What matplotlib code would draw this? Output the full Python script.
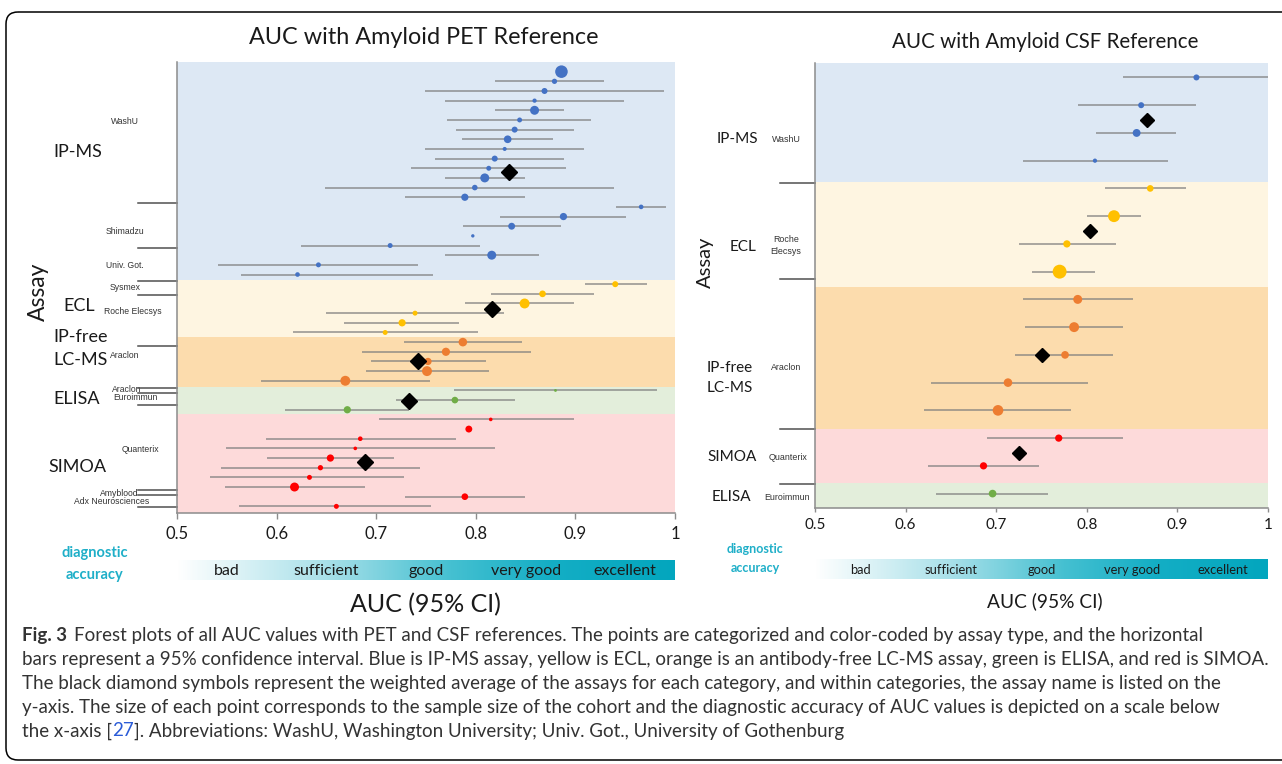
import numpy as np
import matplotlib
matplotlib.use('Agg')
import matplotlib.pyplot as plt
import matplotlib.transforms as mtransforms
from matplotlib.colors import LinearSegmentedColormap
from matplotlib.patches import FancyBboxPatch

W, H = 1282, 764

# ---------------- data: AUC with amyloid PET reference (rows top -> bottom)
pet_group = ['IP-MS'] * 22 + ['ECL'] * 6 + ['LC-MS'] * 5 + ['ELISA'] * 3 + ['SIMOA'] * 10
pet_auc = [0.886, 0.879, 0.869, 0.859, 0.859, 0.844, 0.839, 0.832, 0.829, 0.819, 0.813,
           0.809, 0.799, 0.789, 0.966, 0.888, 0.836, 0.797, 0.714, 0.816, 0.642, 0.621,
           0.940, 0.867, 0.849, 0.739, 0.726, 0.709,
           0.787, 0.770, 0.752, 0.751, 0.669,
           0.880, 0.779, 0.671,
           0.815, 0.793, 0.684, 0.679, 0.654, 0.644, 0.633, 0.618, 0.789, 0.660]
pet_lo = [np.nan, 0.819, 0.749, 0.769, 0.819, 0.771, 0.780, 0.786, 0.749, 0.759, 0.735,
          0.769, 0.649, 0.729, 0.941, 0.824, 0.787, np.nan, 0.624, 0.769, 0.541, 0.564,
          0.910, 0.815, 0.789, 0.650, 0.668, 0.616,
          0.728, 0.686, 0.695, 0.690, 0.584,
          0.778, 0.720, 0.608,
          0.703, np.nan, 0.589, 0.549, 0.590, 0.544, 0.533, 0.548, 0.729, 0.562]
pet_hi = [np.nan, 0.929, 0.989, 0.949, 0.889, 0.916, 0.899, 0.878, 0.909, 0.889, 0.891,
          0.849, 0.939, 0.849, 0.991, 0.951, 0.886, np.nan, 0.804, 0.863, 0.742, 0.757,
          0.972, 0.919, 0.899, 0.828, 0.783, 0.802,
          0.846, 0.855, 0.810, 0.813, 0.754,
          0.982, 0.839, 0.733,
          0.899, np.nan, 0.780, 0.819, 0.718, 0.744, 0.728, 0.689, 0.849, 0.755]
pet_n = [480, 85, 110, 55, 245, 75, 110, 180, 50, 110, 75, 245, 95, 160, 65, 160, 145, 35,
         75, 245, 75, 65,
         110, 135, 300, 75, 160, 75,
         225, 205, 160, 300, 300,
         25, 135, 160,
         40, 145, 65, 40, 160, 85, 75, 245, 135, 75]
pet_mean_group = ['IP-MS', 'ECL', 'LC-MS', 'ELISA', 'SIMOA']
pet_mean_auc = [0.833, 0.816, 0.742, 0.733, 0.689]
pet_mean_row = [11.35, 25.6, 31.0, 35.05, 41.4]
# shaded category bands and assay separators, in row units
pet_bands = [('IP-MS', 0, 22.6), ('ECL', 22.6, 28.5), ('LC-MS', 28.5, 33.6),
             ('ELISA', 33.6, 36.4), ('SIMOA', 36.4, 46.72)]
pet_seps = [14.57, 19.22, 22.67, 24.12, 29.37, 33.78, 34.30, 35.48, 44.31, 44.86, 46.04]

# ---------------- data: AUC with amyloid CSF reference
csf_group = ['IP-MS'] * 4 + ['ECL'] * 4 + ['LC-MS'] * 5 + ['SIMOA'] * 2 + ['ELISA']
csf_auc = [0.921, 0.860, 0.855, 0.809, 0.870, 0.830, 0.778, 0.770,
           0.790, 0.786, 0.776, 0.713, 0.702, 0.769, 0.686, 0.696]
csf_lo = [0.840, 0.790, 0.810, 0.730, 0.820, 0.800, 0.725, 0.740,
          0.730, 0.732, 0.721, 0.628, 0.620, 0.690, 0.625, 0.634]
csf_hi = [1.000, 0.921, 0.899, 0.890, 0.910, 0.860, 0.832, 0.809,
          0.851, 0.840, 0.829, 0.801, 0.783, 0.840, 0.747, 0.757]
csf_n = [110, 110, 190, 55, 135, 430, 160, 590, 245, 300, 180, 225, 345, 160, 160, 180]
csf_mean_auc = [0.866, 0.803, 0.751, 0.725]
csf_mean_row = [2.53, 6.52, 11.0, 14.53]
csf_bands = [('IP-MS', 0.49, 4.78), ('ECL', 4.78, 8.57), ('LC-MS', 8.57, 13.66),
             ('SIMOA', 13.66, 15.63), ('ELISA', 15.63, 16.53)]
csf_seps = [4.82, 8.27, 13.68, 15.67]

xticks = [0.5, 0.6, 0.7, 0.8, 0.9, 1.0]
xticklabels = ['0.5', '0.6', '0.7', '0.8', '0.9', '1']
acc_labels = ['bad', 'sufficient', 'good', 'very good', 'excellent']
acc_mid = [0.55, 0.65, 0.75, 0.85, 0.95]

band_col = {'IP-MS': '#dde8f4', 'ECL': '#fef5e1', 'LC-MS': '#fcdcad',
            'ELISA': '#e3eedb', 'SIMOA': '#fddada'}
dot_col = {'IP-MS': '#4472c4', 'ECL': '#ffc000', 'LC-MS': '#ed7d31',
           'ELISA': '#70ad47', 'SIMOA': '#ff0000'}

MAIN = 'Lato'
SMALL = 'Liberation Sans'
TXT = '#1a1a1a'
TEAL = '#1fafc8'


def rect(x0, y0, x1, y1):
    return [x0 / W, 1 - y1 / H, (x1 - x0) / W, (y1 - y0) / H]


fig = plt.figure(figsize=(W / 100, H / 100), dpi=100)
fig.patch.set_facecolor('white')

# overlay in pixel coordinates for frame, labels and caption
ov = fig.add_axes([0, 0, 1, 1], zorder=0)
ov.set_xlim(0, W)
ov.set_ylim(H, 0)
ov.axis('off')
ov.add_patch(FancyBboxPatch((6, 12), 1330, 748, boxstyle='round,pad=0,rounding_size=12',
                            fc='none', ec='black', lw=1.1))


def panel(box, group, auc, lo, hi, n, mean_auc, mean_row, bands, seps, ylim, dsize, tfs, pad, tlen):
    ax = fig.add_axes(rect(*box), zorder=2)
    ax.patch.set_alpha(0)
    for g, a, b in bands:
        ax.axhspan(a, b, color=band_col[g], lw=0, zorder=0)
    rows = np.arange(1, len(auc) + 1)
    ax.hlines(rows, lo, hi, color='#7f7f7f', lw=1.1, alpha=0.85, zorder=1)
    ax.scatter(auc, rows, s=np.array(n) * 0.17, c=[dot_col[g] for g in group],
               lw=0, zorder=2)
    ax.plot(mean_auc, mean_row, ls='none', marker='D', ms=dsize, color='black', zorder=3)
    ax.set_xlim(0.5, 1.0)
    ax.set_ylim(*ylim)
    for s in ['top', 'right']:
        ax.spines[s].set_visible(False)
    for s in ['left', 'bottom']:
        ax.spines[s].set_color('#8c8c8c')
        ax.spines[s].set_linewidth(1.1)
    ax.set_yticks([])
    ax.set_xticks(xticks)
    ax.set_xticklabels(xticklabels, fontsize=tfs, family=MAIN, color=TXT)
    ax.tick_params(axis='x', direction='out', length=tlen, width=1.0, color='#8c8c8c', pad=pad)
    tr = mtransforms.blended_transform_factory(ax.transAxes, ax.transData)
    for r in seps:
        ax.plot([-0.078, 0], [r, r], transform=tr, color='#505050', lw=1.1, clip_on=False)
    return ax


panel((177, 62, 675, 513.3), pet_group, pet_auc, pet_lo, pet_hi, pet_n,
      pet_mean_auc, pet_mean_row, pet_bands, pet_seps, (46.72, 0), 8.5, 12, 5, 4)
panel((815, 63.3, 1268, 508.3), csf_group, csf_auc, csf_lo, csf_hi, csf_n,
      csf_mean_auc, csf_mean_row, csf_bands, csf_seps, (16.53, 0.49), 7.5, 11, 4, 3)

# diagnostic accuracy scale bars
teal = LinearSegmentedColormap.from_list('acc', [(0, '#ffffff'), (0.3, '#a8e0e9'),
                                                 (0.55, '#45c0d1'), (0.75, '#14aec5'),
                                                 (1, '#03a6be')])
grad = np.linspace(0, 1, 256)[None, :]
for box, fs in [((177, 560, 675, 580), 11.5), ((815, 559, 1268, 579), 9.3)]:
    bx = fig.add_axes(rect(*box), zorder=2)
    bx.imshow(grad, cmap=teal, aspect='auto', extent=(0.5, 1.0, 0, 1))
    bx.set_xlim(0.5, 1.0)
    bx.axis('off')
    for lab, m in zip(acc_labels, acc_mid):
        bx.text(m, 0.45, lab, ha='center', va='center', fontsize=fs, family=MAIN, color=TXT)

# titles and axis labels
ov.text(424, 38, 'AUC with Amyloid PET Reference', ha='center', va='center', fontsize=16.8, family=MAIN, color=TXT)
ov.text(1045, 42, 'AUC with Amyloid CSF Reference', ha='center', va='center', fontsize=14.8, family=MAIN, color=TXT)
ov.text(38, 292, 'Assay', rotation=90, ha='center', va='center', fontsize=16.5, family=MAIN, color=TXT)
ov.text(705, 262, 'Assay', rotation=90, ha='center', va='center', fontsize=14.5, family=MAIN, color=TXT)
ov.text(425, 605, 'AUC (95% CI)', ha='center', va='center', fontsize=18, family=MAIN, color=TXT)
ov.text(1045, 601, 'AUC (95% CI)', ha='center', va='center', fontsize=13.8, family=MAIN, color=TXT)
for x, y0, y1, fs in [(95, 553, 575, 10.5), (755, 549, 568, 9)]:
    ov.text(x, y0, 'diagnostic', ha='center', va='center', fontsize=fs, family=MAIN, weight='bold', color=TEAL)
    ov.text(x, y1, 'accuracy', ha='center', va='center', fontsize=fs, family=MAIN, weight='bold', color=TEAL)

# category names (large) and assay names (small)
big_left = [('IP-MS', 53, 152), ('ECL', 63, 306), ('IP-free', 53, 337), ('LC-MS', 53, 360),
            ('ELISA', 53, 399), ('SIMOA', 48, 467)]
for t, x, y in big_left:
    ov.text(x, y, t, ha='left', va='center', fontsize=13, family=MAIN, color=TXT)
small_left = [('WashU', 125, 122), ('Shimadzu', 125, 232), ('Univ. Got.', 125, 265),
              ('Sysmex', 125, 287), ('Roche Elecsys', 133, 311), ('Araclon', 125, 356),
              ('Araclon', 127, 390), ('Euroimmun', 135, 398), ('Quanterix', 140, 450),
              ('Amyblood', 119, 493), ('Adx Neurosciences', 112, 501)]
for t, x, y in small_left:
    ov.text(x, y, t, ha='center', va='center', fontsize=6.2, family=SMALL, color='#333333')
big_right = [('IP-MS', 737, 139), ('ECL', 743, 247), ('IP-free', 730, 368), ('LC-MS', 730, 388),
             ('SIMOA', 732, 457), ('ELISA', 731, 497)]
for t, x, y in big_right:
    ov.text(x, y, t, ha='center', va='center', fontsize=11, family=MAIN, color=TXT)
small_right = [('WashU', 786, 139), ('Roche', 786, 240), ('Elecsys', 786, 252), ('Araclon', 786, 368),
               ('Quanterix', 788, 457), ('Euroimmun', 787, 497)]
for t, x, y in small_right:
    ov.text(x, y, t, ha='center', va='center', fontsize=6.4, family=SMALL, color='#333333')

# caption
cap = ['Forest plots of all AUC values with PET and CSF references. The points are categorized and color-coded by assay type, and the horizontal',
       'bars represent a 95% confidence interval. Blue is IP-MS assay, yellow is ECL, orange is an antibody-free LC-MS assay, green is ELISA, and red is SIMOA.',
       'The black diamond symbols represent the weighted average of the assays for each category, and within categories, the assay name is listed on the',
       'y-axis. The size of each point corresponds to the sample size of the cohort and the diagnostic accuracy of AUC values is depicted on a scale below']
CAPC = '#333333'
fig.canvas.draw()
r = fig.canvas.get_renderer()
probe = ov.text(22, 659, cap[1], fontsize=12, family=MAIN)
wpx = probe.get_window_extent(r).width
probe.remove()
cfs = 12 * (1262 - 22) / wpx


def put(x, y, s, **kw):
    t = ov.text(x, y, s, ha='left', va='center', fontsize=cfs, family=MAIN, color=CAPC, **kw)
    return x + t.get_window_extent(r).width


xe = put(22, 635, 'Fig. 3', weight='bold')
put(xe + 7, 635, cap[0])
put(22, 659, cap[1])
put(22, 683, cap[2])
put(22, 707, cap[3])
xe = put(22, 731, 'the x-axis [')
t = ov.text(xe, 731, '27', ha='left', va='center', fontsize=cfs, family=MAIN, color='#2a5bd7')
xe += t.get_window_extent(r).width
put(xe, 731, ']. Abbreviations: WashU, Washington University; Univ. Got., University of Gothenburg')

fig.savefig('out.png', dpi=100, facecolor='white')
